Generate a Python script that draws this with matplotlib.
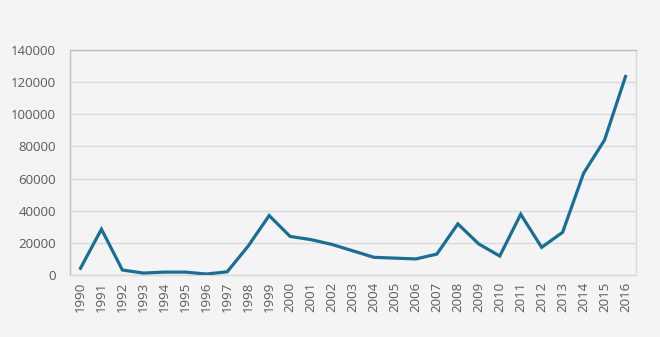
import matplotlib.pyplot as plt

years = [str(y) for y in range(1990, 2017)]
values = [4200, 28500, 3100, 1200, 1800, 1800, 600, 2000, 18000, 37000,
          24000, 22000, 19000, 15000, 11000, 10500, 10000, 13000, 31800, 19300,
          11800, 37800, 17200, 26600, 63300, 84000, 123500]
yticks = [0, 20000, 40000, 60000, 80000, 100000, 120000, 140000]

bg = '#f4f4f4'
text_col = '#595959'

plt.rcParams['font.family'] = ['Open Sans', 'DejaVu Sans']

fig = plt.figure(figsize=(6.6, 3.37), dpi=100, facecolor=bg)
ax = fig.add_axes([70 / 660, 62 / 337, 566 / 660, 225 / 337], facecolor=bg)

x = list(range(len(years)))
ax.plot(x, values, color='#176f98', linewidth=2.3, solid_joinstyle='miter', zorder=3)

ax.set_xlim(-0.5, len(years) - 0.5)
ax.set_ylim(0, 140000)
ax.set_yticks(yticks)
ax.set_yticklabels([str(v) for v in yticks])
ax.set_xticks(x)
ax.set_xticklabels(years, rotation=90)

ax.grid(axis='y', color='#d9d9d9', linewidth=1)
ax.set_axisbelow(True)
for side in ['left', 'right', 'top', 'bottom']:
    ax.spines[side].set_color('#d9d9d9')
    ax.spines[side].set_linewidth(1)
ax.spines['left'].set_color('#bfbfbf')
ax.spines['top'].set_color('#bfbfbf')

ax.tick_params(axis='both', length=0, colors=text_col, labelsize=9.5)
ax.tick_params(axis='y', pad=10)
ax.tick_params(axis='x', pad=5)

fig.savefig('out.png', dpi=100, facecolor=bg)
